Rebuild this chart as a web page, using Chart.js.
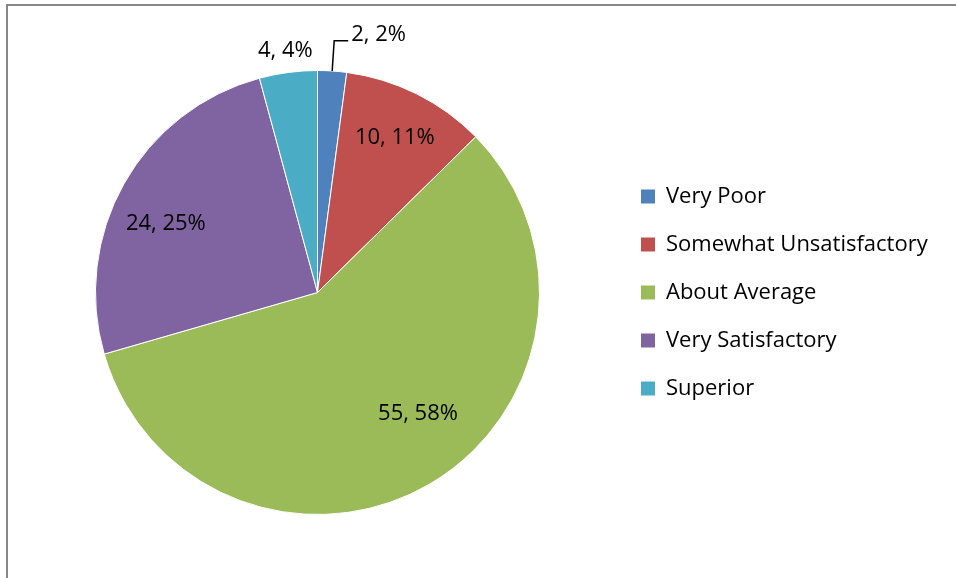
<!DOCTYPE html>
<html>
<head>
<meta charset="utf-8">
<script src="https://cdn.jsdelivr.net/npm/chart.js@4.4.0/dist/chart.umd.min.js"></script>
<style>
html, body { margin: 0; padding: 0; background: #fff; overflow: hidden; }
#frame { position: absolute; left: 6px; top: 4px; width: 980px; height: 600px;
  border-top: 2px solid #878787; border-left: 2px solid #878787; }
#wrap { position: absolute; left: 0; top: 0; width: 956px; height: 578px; }
</style>
</head>
<body>
<div id="frame"></div>
<div id="wrap"><canvas id="chart" width="956" height="578"></canvas></div>
<script>
var categories = ['Very Poor', 'Somewhat Unsatisfactory', 'About Average', 'Very Satisfactory', 'Superior'];
var counts = [2, 10, 55, 24, 4];
var colors = ['#4F81BD', '#C0504D', '#9BBB59', '#8064A2', '#4BACC6'];

// label placement per slice: share of radius, turn off the middle angle (deg)
var labelSpots = [
    {r: 1.137, turn: 0, leader: true},
    {r: 0.78, turn: 0},
    {r: 0.71, turn: -9.3},
    {r: 0.75, turn: -5},
    {r: 1.1, turn: 0}
];

var fontFamily = "'Open Sans', 'Noto Sans', sans-serif";
var fontSize = 22;
var boxSize = 14;
var rowGap = 48 - fontSize;

var canvas = document.getElementById('chart');
var ctx = canvas.getContext('2d');

// legend boxes start at x=641, pie centre at x=317.5
var legendLeft = 641 - rowGap;
var leftPad = 635 - legendLeft;
ctx.font = fontSize + 'px ' + fontFamily;
var longest = 0;
categories.forEach(function(c){
    longest = Math.max(longest, ctx.measureText(c).width);
});
var legendWidth = rowGap + boxSize + fontSize / 2 + longest + 10;
var rightPad = Math.max(956 - legendLeft - legendWidth, 0);

var total = counts.reduce(function(a, b){ return a + b; }, 0);

var sliceLabels = {
    id: 'sliceLabels',
    afterDatasetsDraw: function(chart){
        var c = chart.ctx;
        var meta = chart.getDatasetMeta(0);
        c.save();
        c.font = fontSize + 'px ' + fontFamily;
        c.fillStyle = '#000';
        c.strokeStyle = '#000';
        c.lineWidth = 1.5;
        meta.data.forEach(function(arc, i){
            var spot = labelSpots[i];
            var mid = (arc.startAngle + arc.endAngle) / 2 + spot.turn * Math.PI / 180;
            var d = arc.outerRadius * spot.r;
            var x = arc.x + Math.cos(mid) * d;
            var y = arc.y + Math.sin(mid) * d;
            var text = counts[i] + ', ' + Math.round(counts[i] / total * 100) + '%';
            if(spot.leader){
                var ex = arc.x + Math.cos(mid) * arc.outerRadius;
                var ey = arc.y + Math.sin(mid) * arc.outerRadius;
                c.beginPath();
                c.moveTo(ex, ey);
                c.lineTo(x, y);
                c.lineTo(x + 14, y);
                c.stroke();
                c.textAlign = 'left';
                c.textBaseline = 'alphabetic';
                c.fillText(text, x + 17, y);
            }else{
                c.textAlign = 'center';
                c.textBaseline = 'middle';
                c.fillText(text, x, y);
            }
        });
        c.restore();
    }
};

Chart.defaults.color = '#000';
Chart.defaults.font.family = fontFamily;

var chart = new Chart(ctx, {
    type: 'pie',
    data: {
        labels: categories,
        datasets: [{
            data: counts,
            backgroundColor: colors,
            borderColor: '#ffffff',
            borderWidth: 1
        }]
    },
    options: {
        responsive: false,
        animation: false,
        events: [],
        layout: {
            padding: {left: leftPad, top: 70, bottom: 63, right: rightPad}
        },
        plugins: {
            tooltip: {enabled: false},
            legend: {
                position: 'right',
                labels: {
                    boxWidth: boxSize,
                    boxHeight: boxSize,
                    padding: rowGap,
                    color: '#000',
                    font: {size: fontSize, family: fontFamily},
                    generateLabels: function(chart){
                        var items = Chart.overrides.pie.plugins.legend.labels.generateLabels(chart);
                        items.forEach(function(it){ it.lineWidth = 0; it.strokeStyle = it.fillStyle; });
                        return items;
                    }
                }
            }
        }
    },
    plugins: [sliceLabels]
});
</script>
</body>
</html>
